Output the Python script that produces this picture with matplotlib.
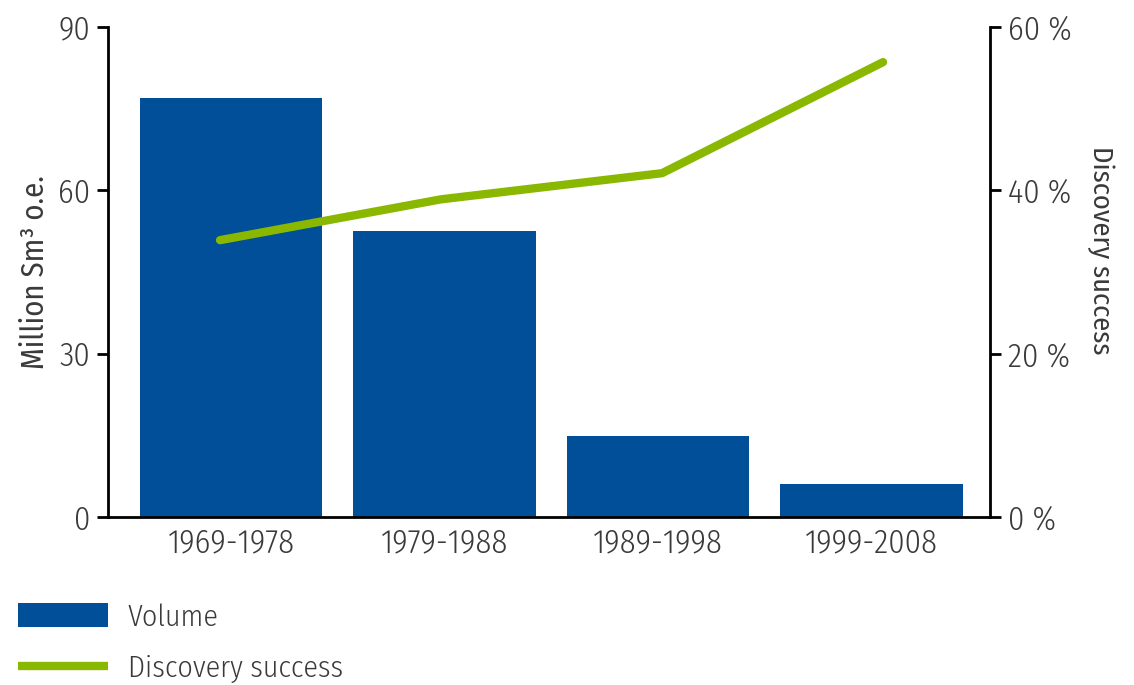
import matplotlib
matplotlib.use("Agg")
import matplotlib.pyplot as plt
from matplotlib.patches import Patch
from matplotlib.lines import Line2D

categories = ["1969-1978", "1979-1988", "1989-1998", "1999-2008"]
volume = [77.0, 52.5, 14.8, 6.0]           # million Sm3 o.e.
success = [33.9, 38.9, 42.1, 55.7]         # percent
left_ticks = [0, 30, 60, 90]
right_ticks = [0, 20, 40, 60]
right_ticklabels = ["0 %", "20 %", "40 %", "60 %"]

BLUE = "#004f98"
GREEN = "#8ab800"
TXT = "#3a3a3a"

plt.rcParams['font.family'] = ['Fira Sans Condensed', 'DejaVu Sans']
plt.rcParams['font.weight'] = 300
FS = 23.5
FS_SMALL = 21.5

W, H = 1134, 685
fig = plt.figure(figsize=(W / 100, H / 100), dpi=100)
pos = [108 / W, 1 - 517 / H, (990 - 108) / W, (517 - 27) / H]
ax = fig.add_axes(pos)

x = list(range(len(categories)))
ax.bar(x, volume, width=0.855, color=BLUE, zorder=2)
ax.set_xlim(-0.576, 3.555)
ax.set_ylim(0, 90)
ax.set_yticks(left_ticks)
ax.set_xticks(x)
ax.set_xticklabels(categories)
ax.tick_params(axis='x', length=0, pad=7, labelsize=FS, labelcolor=TXT)
ax.tick_params(axis='y', length=8, width=2, pad=5, labelsize=FS, labelcolor=TXT, direction='out')
for s in ['top', 'right']:
    ax.spines[s].set_visible(False)
ax.spines['left'].set_linewidth(2)
ax.spines['bottom'].set_linewidth(2)
ax.set_ylabel("Million Sm³ o.e.", fontsize=FS_SMALL + 0.5, color=TXT)
ax.yaxis.set_label_coords(-0.066, 0.5)

# Line axes (own x scale so the line spans like the reference)
ax2 = fig.add_axes(pos)
ax2.patch.set_visible(False)
ax2.plot(x, success, color=GREEN, lw=6, solid_capstyle='round', solid_joinstyle='round', zorder=3)
ax2.set_xlim(-0.507, 3.484)
ax2.set_ylim(0, 60)
ax2.set_xticks([])
ax2.yaxis.tick_right()
ax2.yaxis.set_label_position('right')
ax2.set_yticks(right_ticks)
ax2.set_yticklabels(right_ticklabels)
ax2.tick_params(axis='y', length=8, width=2, pad=5, labelsize=FS, labelcolor=TXT, direction='out')
for s in ['top', 'left', 'bottom']:
    ax2.spines[s].set_visible(False)
ax2.spines['right'].set_linewidth(2)
ax2.set_ylabel("Discovery success", fontsize=FS_SMALL - 1, color=TXT, rotation=270, va='bottom')
ax2.yaxis.set_label_coords(1.11, 0.545)

handles = [Patch(facecolor=BLUE, edgecolor='none'),
           Line2D([0], [0], color=GREEN, lw=6, solid_capstyle='butt')]
leg = fig.legend(handles, ["Volume", "Discovery success"], loc='upper left',
                 bbox_to_anchor=(18 / W, 1 - 603 / H), frameon=False,
                 fontsize=FS_SMALL, handlelength=3.0, handleheight=0.85,
                 handletextpad=0.68, labelspacing=0.78, borderaxespad=0, borderpad=0)
for t in leg.get_texts():
    t.set_color(TXT)

fig.savefig("out.png", dpi=100)
